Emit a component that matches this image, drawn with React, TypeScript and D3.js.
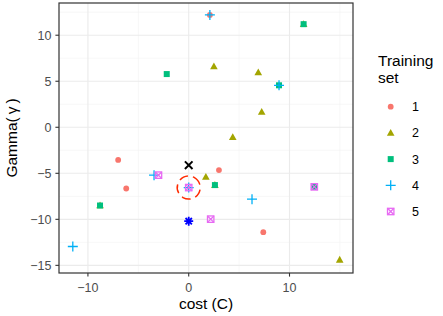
import React from "react";
import * as d3 from "d3";

const set1X = [-7.0, -6.2, 3.0, 7.4, 2.1];
const set1Y = [-3.55, -6.65, -4.65, -11.4, 12.2];
const set2X = [2.5, 6.9, 7.24, 4.37, 1.7, 14.98, 11.4, -8.8, 2.6];
const set2Y = [6.6, 5.96, 1.66, -1.08, -5.4, -14.4, 11.2, -8.5, -6.28];
const set3X = [-2.18, 11.4, 8.96, 2.6, -8.8, 12.46];
const set3Y = [5.78, 11.2, 4.56, -6.28, -8.5, -6.47];
const set4X = [2.1, 8.96, 6.28, -11.5, -3.44, 0];
const set4Y = [12.2, 4.56, -7.81, -12.95, -5.2, -6.55];
const set5X = [-3.0, 0, 2.18, 12.46];
const set5Y = [-5.2, -6.55, -9.98, -6.47];

const bestX = [0];
const bestY = [-4.12];
const starX = [0];
const starY = [-10.2];
const circleX = [0];
const circleY = [-6.55];

const setLabels = ["1", "2", "3", "4", "5"];
const setColors = ["#F8766D", "#A3A500", "#00BF7D", "#00B0F6", "#E76BF3"];
const xTicks = [-10, 0, 10];
const yTicks = [-15, -10, -5, 0, 5, 10];
const xMinor = [-5, 5, 15];
const yMinor = [-12.5, -7.5, -2.5, 2.5, 7.5, 12.5];

const W = 443, H = 316;
const L = 59, R = 353, T = 3, B = 273;

function Marker({ k, x, y, color }: { k: number; x: number; y: number; color: string }) {
  if (k === 0) return <circle cx={x} cy={y} r={2.9} fill={color} />;
  if (k === 1) {
    const s = 4;
    return <path d={`M${x},${y - s}L${x + s * 0.95},${y + s * 0.7}L${x - s * 0.95},${y + s * 0.7}Z`} fill={color} />;
  }
  if (k === 2) return <rect x={x - 3} y={y - 3} width={6} height={6} fill={color} />;
  if (k === 3) {
    const s = 5;
    return <path d={`M${x - s},${y}H${x + s}M${x},${y - s}V${y + s}`} stroke={color} strokeWidth={1.3} fill="none" />;
  }
  const s = 3.2;
  return (
    <g stroke={color} strokeWidth={1.3} fill="none">
      <rect x={x - s} y={y - s} width={2 * s} height={2 * s} />
      <path d={`M${x - s},${y - s}L${x + s},${y + s}M${x + s},${y - s}L${x - s},${y + s}`} />
    </g>
  );
}

export default function App() {
  const x = d3.scaleLinear().domain([-12.87, 16.3]).range([L, R]);
  const y = d3.scaleLinear().domain([-15.83, 13.5]).range([B, T]);
  const sets = [
    [set1X, set1Y],
    [set2X, set2Y],
    [set3X, set3Y],
    [set4X, set4Y],
    [set5X, set5Y],
  ];
  const font = "Liberation Sans, Arial, sans-serif";
  return (
    <svg width={W} height={H} style={{ position: "absolute", left: 0, top: 0 }} fontFamily={font}>
      <rect x={0} y={0} width={W} height={H} fill="#fff" />
      {xMinor.map((v) => (
        <line key={"xm" + v} x1={x(v)} x2={x(v)} y1={T} y2={B} stroke="#F2F2F2" strokeWidth={0.6} />
      ))}
      {yMinor.map((v) => (
        <line key={"ym" + v} x1={L} x2={R} y1={y(v)} y2={y(v)} stroke="#F2F2F2" strokeWidth={0.6} />
      ))}
      {xTicks.map((v) => (
        <line key={"xg" + v} x1={x(v)} x2={x(v)} y1={T} y2={B} stroke="#EBEBEB" strokeWidth={1.1} />
      ))}
      {yTicks.map((v) => (
        <line key={"yg" + v} x1={L} x2={R} y1={y(v)} y2={y(v)} stroke="#EBEBEB" strokeWidth={1.1} />
      ))}
      {sets.map(([xs, ys], k) =>
        xs.map((xv, i) => <Marker key={k + "-" + i} k={k} x={x(xv)} y={y(ys[i])} color={setColors[k]} />)
      )}
      {bestX.map((v, i) => {
        const cx = x(v), cy = y(bestY[i]), s = 3.8;
        return (
          <path key={"b" + i} d={`M${cx - s},${cy - s}L${cx + s},${cy + s}M${cx + s},${cy - s}L${cx - s},${cy + s}`} stroke="#000" strokeWidth={2} />
        );
      })}
      {starX.map((v, i) => {
        const cx = x(v), cy = y(starY[i]), s = 4.5, d = s * 0.707;
        return (
          <path key={"s" + i} d={`M${cx - s},${cy}H${cx + s}M${cx},${cy - s}V${cy + s}M${cx - d},${cy - d}L${cx + d},${cy + d}M${cx + d},${cy - d}L${cx - d},${cy + d}`} stroke="#0000FF" strokeWidth={1.8} />
        );
      })}
      {circleX.map((v, i) => (
        <circle key={"c" + i} cx={x(v)} cy={y(circleY[i])} r={11.5} fill="none" stroke="#FF2A00" strokeWidth={1.5} strokeDasharray="9 5" transform={`rotate(-60 ${x(v)} ${y(circleY[i])})`} />
      ))}
      <rect x={L} y={T} width={R - L} height={B - T} fill="none" stroke="#333" strokeWidth={1.2} />
      {xTicks.map((v) => (
        <g key={"xt" + v}>
          <line x1={x(v)} x2={x(v)} y1={B} y2={B + 3.6} stroke="#333" strokeWidth={1.1} />
          <text x={x(v)} y={291.5} textAnchor="middle" fontSize={12.5} fill="#4D4D4D">
            {v < 0 ? "\u2212" + Math.abs(v) : v}
          </text>
        </g>
      ))}
      {yTicks.map((v) => (
        <g key={"yt" + v}>
          <line x1={L - 3.6} x2={L} y1={y(v)} y2={y(v)} stroke="#333" strokeWidth={1.1} />
          <text x={51.5} y={y(v)} dy="0.36em" textAnchor="end" fontSize={12.5} fill="#4D4D4D">
            {v < 0 ? "\u2212" + Math.abs(v) : v}
          </text>
        </g>
      ))}
      <text x={(L + R) / 2} y={309} textAnchor="middle" fontSize={15.5} fill="#000">
        cost (C)
      </text>
      <text transform={`translate(16.5,${(T + B) / 2}) rotate(-90)`} textAnchor="middle" fontSize={15.5} fill="#000">
        Gamma(<tspan dx="3">γ</tspan><tspan dx="3">)</tspan>
      </text>
      <text x={378} y={66} fontSize={15.5} fill="#000">Training</text>
      <text x={378} y={83.3} fontSize={15.5} fill="#000">set</text>
      {setLabels.map((lab, k) => {
        const ly = 106.7 + k * 26.2;
        return (
          <g key={"lg" + k}>
            <Marker k={k} x={390.7} y={ly} color={setColors[k]} />
            <text x={412} y={ly} dy="0.36em" fontSize={12.5} fill="#000">
              {lab}
            </text>
          </g>
        );
      })}
    </svg>
  );
}
